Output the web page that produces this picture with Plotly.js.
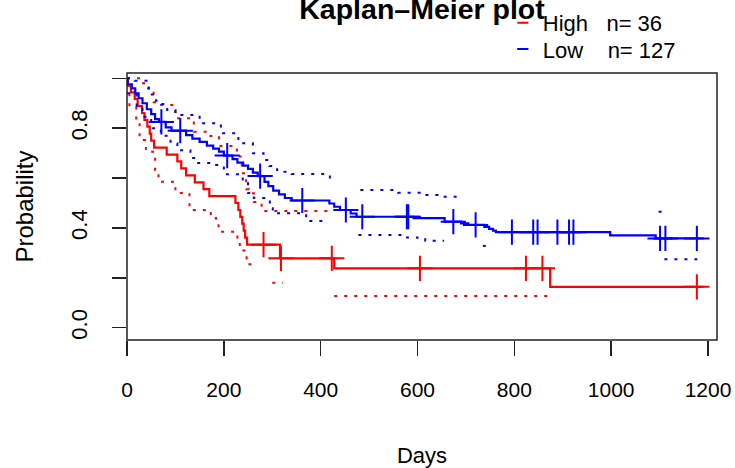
<!DOCTYPE html>
<html><head><meta charset="utf-8">
<script src="https://cdn.plot.ly/plotly-3.0.1.min.js"></script>
<style>html,body{margin:0;padding:0;background:#fff}#chart{width:735px;height:468px}</style>
</head><body><div id="chart"></div>
<script>
// ---- High group (n = 36): Kaplan-Meier step curve ----
const highTimes = [0, 2, 8, 16, 22, 31, 36, 42, 47, 50, 56, 82, 104, 112, 122, 140, 158, 170, 224, 230, 234, 238, 241, 244, 248, 316, 428, 874, 1191];
const highSurv  = [1.0, 0.972, 0.944, 0.917, 0.889, 0.861, 0.833, 0.806, 0.778, 0.750, 0.722, 0.694, 0.667, 0.639, 0.611, 0.583, 0.556, 0.528, 0.500, 0.472, 0.444, 0.417, 0.389, 0.361, 0.333, 0.278, 0.238, 0.164, 0.164];
const highCensor = [282, 318, 423, 605, 824, 858, 1177];
// confidence bands (null = not visible in the picture)
const highUpperT = [0, 31, 39, 55, 64, 100, 138, 170, 190, 227, 237, 246, 252, 262, 278, 418];
const highUpperS = [1.0, 0.98, 0.96, 0.904, 0.893, 0.84, 0.786, 0.769, 0.729, 0.686, 0.619, 0.555, 0.539, 0.504, 0.468, 0.468];
const highLowerT = [0, 5, 19, 26, 39, 58, 65, 100, 129, 173, 184, 189, 209, 228, 233, 247, 262, null, 300, 322, null, 428, 872];
const highLowerS = [0.97, 0.884, 0.83, 0.753, 0.706, 0.619, 0.585, 0.54, 0.472, 0.44, 0.415, 0.385, 0.385, 0.34, 0.31, 0.254, 0.254, null, 0.18, 0.18, null, 0.127, 0.127];

// ---- Low group (n = 127) ----
const lowTimes = [0, 1, 10, 17, 24, 32, 41, 50, 58, 66, 80, 92, 122, 135, 150, 165, 178, 190, 200, 218, 228, 240, 250, 260, 270, 284, 292, 302, 314, 326, 340, 418, 428, 440, 462, 474, 592, 656, 690, 705, 738, 748, 756, 762, 998, 1092, 1191];
const lowSurv  = [1.0, 0.976, 0.96, 0.94, 0.92, 0.90, 0.876, 0.856, 0.836, 0.825, 0.803, 0.79, 0.772, 0.758, 0.745, 0.73, 0.718, 0.706, 0.69, 0.676, 0.662, 0.65, 0.637, 0.622, 0.608, 0.585, 0.568, 0.55, 0.535, 0.52, 0.51, 0.498, 0.485, 0.472, 0.458, 0.445, 0.439, 0.425, 0.418, 0.412, 0.404, 0.396, 0.389, 0.383, 0.37, 0.358, 0.358];
const lowCensor = [71, 110, 207, 275, 362, 452, 486, 578, 581, 674, 720, 795, 839, 848, 889, 913, 922, 1101, 1112, 1177];
const lowUpperT = [0, 16, 45, 60, 71, 83, 100, 150, 194, 230, 260, 282, 294, 310, 325, 340, 419, 426, null, 482, 560, 612, 650, 695, null, 1098, 1112];
const lowUpperS = [1.0, 0.99, 0.935, 0.91, 0.897, 0.873, 0.853, 0.82, 0.78, 0.74, 0.70, 0.672, 0.648, 0.632, 0.625, 0.616, 0.585, 0.585, null, 0.552, 0.541, 0.532, 0.525, 0.525, null, 0.465, 0.465];
const lowLowerT = [0, 20, 32, 50, 70, 90, 104, 131, 144, 175, 200, 239, 250, 262, 295, 301, 370, 412, null, 478, 560, 576, 600, 616, 655, null, 735, 745, null, 1110, 1178];
const lowLowerS = [0.94, 0.89, 0.846, 0.8, 0.77, 0.74, 0.712, 0.68, 0.66, 0.652, 0.615, 0.579, 0.54, 0.52, 0.479, 0.459, 0.428, 0.428, null, 0.372, 0.372, 0.362, 0.355, 0.349, 0.349, null, 0.328, 0.328, null, 0.274, 0.274];

const NB = '\u00a0';
const legendLabels = ['High' + NB.repeat(3) + 'n=' + NB + '36', 'Low' + NB.repeat(4) + 'n=' + NB + '127'];
const xTicks = [0, 200, 400, 600, 800, 1000, 1200];
const yTicks = [0, 0.2, 0.4, 0.6, 0.8, 1.0];
const yTickText = ['0.0', '', '0.4', '', '0.8', ''];

const RED = '#FF0000', BLUE = '#0000FF';
const FONT = 'Liberation Sans, Arial, Helvetica, sans-serif';

function stepAt(times, surv, t) {
  let v = surv[0];
  for (let i = 0; i < times.length; i++) if (times[i] <= t) v = surv[i];
  return v;
}

function group(times, surv, cens, upT, upS, loT, loS, color) {
  const dots = {dash: '3px,7px', width: 2, color: color, shape: 'hv'};
  return [
    {x: upT, y: upS, mode: 'lines', line: dots, showlegend: false, hoverinfo: 'skip', connectgaps: false},
    {x: loT, y: loS, mode: 'lines', line: dots, showlegend: false, hoverinfo: 'skip', connectgaps: false},
    {x: times, y: surv, mode: 'lines', line: {color: color, width: 2.2, shape: 'hv'}, showlegend: false},
    {x: cens, y: cens.map(t => stepAt(times, surv, t)), mode: 'markers', showlegend: false,
     marker: {symbol: 'cross-thin-open', size: 18, color: color, line: {color: color, width: 2}}}
  ];
}

const data = [].concat(
  group(highTimes, highSurv, highCensor, highUpperT, highUpperS, highLowerT, highLowerS, RED),
  group(lowTimes, lowSurv, lowCensor, lowUpperT, lowUpperS, lowLowerT, lowLowerS, BLUE),
  [
    {x: [null], y: [null], mode: 'markers', name: legendLabels[0], showlegend: true, legend: 'legend',
     marker: {symbol: 'line-ew-open', size: 8, color: RED, line: {color: RED, width: 2}}},
    {x: [null], y: [null], mode: 'markers', name: legendLabels[1], showlegend: true, legend: 'legend2',
     marker: {symbol: 'line-ew-open', size: 8, color: BLUE, line: {color: BLUE, width: 2}}}
  ]
);

const legendBase = {x: 0.637, xanchor: 'left', yanchor: 'top', bgcolor: 'rgba(0,0,0,0)',
                    font: {size: 22, family: FONT, color: '#000'}, itemwidth: 30};

const layout = {
  width: 735, height: 468,
  margin: {l: 127, r: 18, t: 73, b: 128, autoexpand: false},
  paper_bgcolor: '#fff', plot_bgcolor: '#fff',
  font: {family: FONT, color: '#000'},
  title: {text: '<b>Kaplan\u2013Meier plot</b>', font: {family: FONT, size: 28.5, color: '#000'},
          x: 0.5, xref: 'paper', xanchor: 'center', y: 0.981, yref: 'container', yanchor: 'middle'},
  xaxis: {range: [0, 1218.6], tickvals: xTicks, ticktext: xTicks.map(String), ticks: 'outside',
          ticklen: 15, tickwidth: 1.5, tickcolor: '#222', showgrid: false, zeroline: false, showline: false,
          tickfont: {size: 21, family: FONT}, ticklabelstandoff: 16,
          title: {text: 'Days', font: {size: 22, family: FONT}, standoff: 48}},
  yaxis: {range: [-0.0493, 1.0213], tickvals: yTicks, ticktext: yTickText, ticks: 'outside',
          ticklen: 14, tickwidth: 1.5, tickcolor: '#222', showgrid: false, zeroline: false, showline: false,
          tickangle: -90, tickfont: {size: 22, family: FONT}, ticklabelstandoff: 16,
          title: {text: 'Probability', font: {size: 24, family: FONT}, standoff: 26}},
  showlegend: true,
  legend: Object.assign({}, legendBase, {y: 1.266}),
  legend2: Object.assign({}, legendBase, {y: 1.168}),
  shapes: [{type: 'rect', xref: 'paper', yref: 'paper', x0: 0, x1: 1, y0: 0, y1: 1,
            line: {color: '#222', width: 1.5}}]
};

Plotly.newPlot('chart', data, layout, {staticPlot: true, displayModeBar: false});
</script>
</body></html>
